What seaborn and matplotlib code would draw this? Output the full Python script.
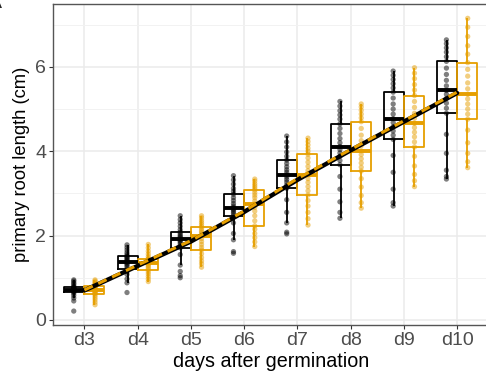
import numpy as np
import pandas as pd
import seaborn as sns
import matplotlib.pyplot as plt
from matplotlib.ticker import MultipleLocator

# ---- data ----
days = ["d3", "d4", "d5", "d6", "d7", "d8", "d9", "d10"]
groups = ["control", "treated"]

# primary root length (cm), one list per day
control_len = [
    [0.21, 0.45, 0.52, 0.58, 0.63, 0.66, 0.68, 0.69, 0.70, 0.71, 0.72, 0.73, 0.74, 0.75, 0.77, 0.78, 0.81, 0.85, 0.88, 0.92, 0.95],
    [0.65, 0.88, 0.97, 1.08, 1.15, 1.21, 1.26, 1.30, 1.33, 1.36, 1.38, 1.40, 1.43, 1.46, 1.49, 1.51, 1.55, 1.60, 1.66, 1.72, 1.78],
    [1.00, 1.05, 1.15, 1.30, 1.55, 1.71, 1.76, 1.81, 1.85, 1.88, 1.91, 1.94, 1.97, 2.00, 2.04, 2.08, 2.14, 2.22, 2.30, 2.38, 2.47],
    [1.58, 1.62, 1.90, 2.05, 2.30, 2.47, 2.52, 2.56, 2.60, 2.63, 2.66, 2.70, 2.76, 2.83, 2.90, 2.98, 3.05, 3.12, 3.22, 3.32, 3.42],
    [2.04, 2.08, 2.30, 2.55, 2.85, 3.12, 3.20, 3.27, 3.33, 3.39, 3.44, 3.50, 3.56, 3.63, 3.71, 3.79, 3.88, 3.98, 4.10, 4.22, 4.36],
    [2.41, 2.55, 2.80, 3.10, 3.40, 3.68, 3.78, 3.88, 3.96, 4.04, 4.11, 4.20, 4.30, 4.42, 4.54, 4.65, 4.76, 4.86, 4.96, 5.07, 5.18],
    [2.70, 2.78, 3.10, 3.50, 3.90, 4.28, 4.38, 4.48, 4.58, 4.68, 4.77, 4.88, 5.00, 5.12, 5.26, 5.40, 5.50, 5.60, 5.70, 5.80, 5.90],
    [3.34, 3.40, 3.55, 3.95, 4.40, 4.90, 5.02, 5.14, 5.25, 5.35, 5.44, 5.55, 5.68, 5.82, 5.97, 6.13, 6.24, 6.35, 6.45, 6.55, 6.64],
]
treated_len = [
    [0.36, 0.42, 0.48, 0.53, 0.58, 0.62, 0.64, 0.66, 0.68, 0.69, 0.70, 0.72, 0.74, 0.76, 0.78, 0.80, 0.83, 0.86, 0.89, 0.92, 0.95],
    [0.91, 0.97, 1.03, 1.09, 1.14, 1.19, 1.23, 1.27, 1.30, 1.33, 1.36, 1.38, 1.40, 1.42, 1.44, 1.45, 1.50, 1.56, 1.63, 1.71, 1.79],
    [1.25, 1.33, 1.40, 1.48, 1.57, 1.66, 1.72, 1.79, 1.86, 1.93, 2.00, 2.04, 2.08, 2.12, 2.17, 2.21, 2.26, 2.31, 2.36, 2.42, 2.47],
    [1.74, 1.85, 1.95, 2.05, 2.15, 2.23, 2.35, 2.47, 2.58, 2.67, 2.75, 2.82, 2.90, 2.96, 3.02, 3.08, 3.13, 3.18, 3.23, 3.29, 3.34],
    [2.25, 2.40, 2.55, 2.70, 2.83, 2.96, 3.06, 3.16, 3.26, 3.35, 3.44, 3.54, 3.64, 3.74, 3.84, 3.93, 4.00, 4.07, 4.15, 4.23, 4.31],
    [2.65, 2.78, 2.95, 3.15, 3.35, 3.53, 3.62, 3.72, 3.82, 3.92, 4.01, 4.13, 4.25, 4.38, 4.54, 4.70, 4.79, 4.88, 4.97, 5.05, 5.12],
    [3.16, 3.30, 3.45, 3.65, 3.88, 4.10, 4.22, 4.34, 4.45, 4.56, 4.66, 4.78, 4.90, 5.04, 5.18, 5.32, 5.45, 5.58, 5.72, 5.85, 5.98],
    [3.61, 3.75, 3.95, 4.20, 4.50, 4.76, 4.88, 5.00, 5.12, 5.24, 5.35, 5.48, 5.62, 5.78, 5.94, 6.10, 6.30, 6.50, 6.72, 6.94, 7.15],
]

# smoothed trend per group, at each day
control_trend = [0.70, 1.28, 1.86, 2.56, 3.32, 4.02, 4.70, 5.38]
treated_trend = [0.71, 1.30, 1.88, 2.58, 3.35, 4.04, 4.72, 5.40]

colors = {"control": "black", "treated": "#E69F00"}

# long table for seaborn
rows = []
for g, per_day in zip(groups, [control_len, treated_len]):
    for d, vals in zip(days, per_day):
        for v in vals:
            rows.append((d, g, v))
df = pd.DataFrame(rows, columns=["day", "group", "length"])

sns.set_theme(style="white")
plt.rcParams["font.family"] = ["Liberation Sans", "DejaVu Sans"]

fig = plt.figure(figsize=(4.86, 3.76), dpi=100)
ax = fig.add_axes([53 / 486, 1 - 325 / 376, (489 - 53) / 486, 321 / 376])

sns.boxplot(data=df, x="day", y="length", hue="group", order=days, hue_order=groups,
            palette=colors, fill=False, width=0.75, gap=0, showfliers=False,
            linewidth=1.3, medianprops={"linewidth": 2.8},
            capprops={"visible": False}, legend=False, ax=ax)
sns.stripplot(data=df, x="day", y="length", hue="group", order=days, hue_order=groups,
              palette=colors, dodge=True, jitter=False, size=3.8, alpha=0.5,
              linewidth=0, legend=False, ax=ax, zorder=3)

xpos = np.arange(len(days))
sns.lineplot(x=xpos, y=control_trend, color="black", linewidth=3.2, ax=ax, zorder=4)
sns.lineplot(x=xpos, y=treated_trend, color="#E69F00", linewidth=2.2, linestyle=(0, (3, 2)),
             ax=ax, zorder=5)

ax.set_xlim(-0.59, 7.6)
ax.set_ylim(-0.12, 7.49)
ax.set_yticks([0, 2, 4, 6])
ax.yaxis.set_minor_locator(MultipleLocator(1))
ax.set_axisbelow(True)
ax.grid(True, which="major", color="#EBEBEB", linewidth=1.1)
ax.yaxis.grid(True, which="minor", color="#F2F2F2", linewidth=0.7)
ax.xaxis.grid(True, color="#EBEBEB", linewidth=1.1)

for side in ["left", "bottom", "top", "right"]:
    ax.spines[side].set_color("#555555")
    ax.spines[side].set_linewidth(1.0)

ax.tick_params(axis="both", which="major", length=3, width=0.8, color="#333333",
               labelsize=14, labelcolor="#4D4D4D", pad=2, left=True, bottom=True)
ax.tick_params(axis="y", which="minor", length=0)

ax.set_xlabel("days after germination", fontsize=14.2, color="black", labelpad=2)
ax.set_ylabel("primary root length (cm)", fontsize=13.2, color="black", labelpad=4)

fig.text(-0.022, 1.012, "A", fontsize=14, va="top", ha="left")

fig.savefig("out.png", dpi=100)
